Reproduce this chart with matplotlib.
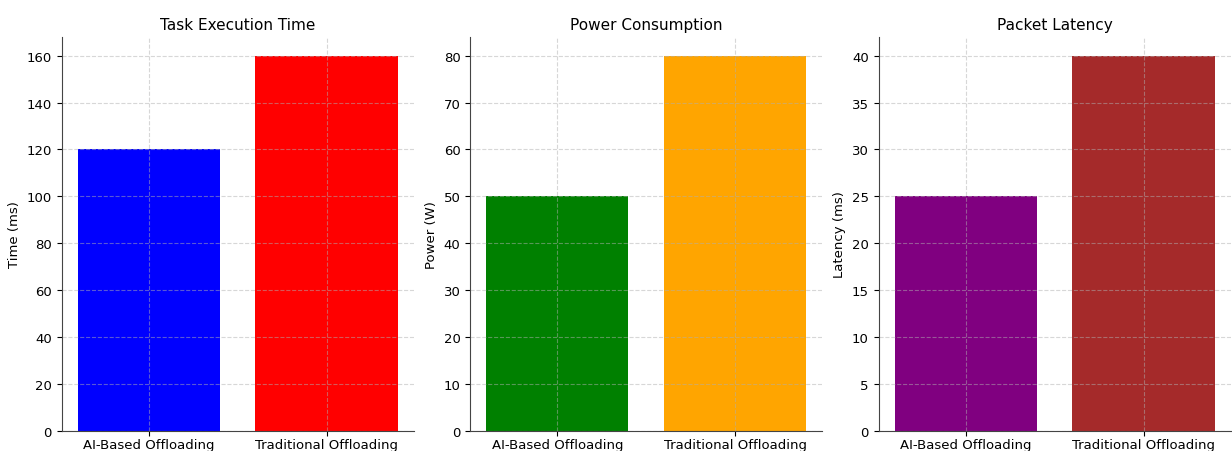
import matplotlib.pyplot as plt

methods = ["AI-Based Offloading", "Traditional Offloading"]

exec_time = [120, 160]
power = [50, 80]
latency = [25, 40]

titles = ["Task Execution Time", "Power Consumption", "Packet Latency"]
ylabels = ["Time (ms)", "Power (W)", "Latency (ms)"]
colors = [["blue", "red"], ["green", "orange"], ["purple", "brown"]]

fig, axes = plt.subplots(1, 3, figsize=(12.32, 4.52), dpi=100)
fig.subplots_adjust(left=0.05, right=0.999, top=0.916, bottom=0.045, wspace=0.16)

for ax, values, title, ylab, cols in zip(axes, [exec_time, power, latency], titles, ylabels, colors):
    ax.bar(methods, values, color=cols)
    ax.set_title(title, fontsize=11)
    ax.set_ylabel(ylab, fontsize=9.5)
    ax.tick_params(labelsize=9.5)
    ax.tick_params(axis="x", pad=1.5)
    ax.grid(True, linestyle="--", alpha=0.5)
    ax.spines["top"].set_visible(False)
    ax.spines["right"].set_visible(False)
    ax.spines["left"].set_color("#444444")
    ax.spines["bottom"].set_color("#444444")

fig.savefig("out.png")
